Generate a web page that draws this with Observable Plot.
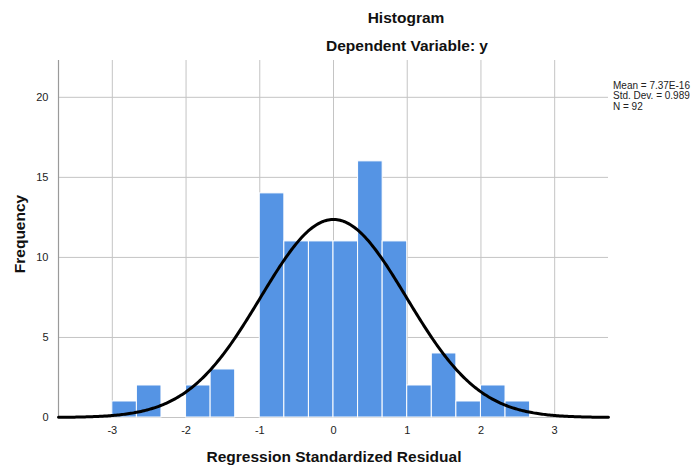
<!DOCTYPE html>
<html>
<head>
<meta charset="utf-8">
<script src="https://cdn.jsdelivr.net/npm/d3@7"></script>
<script src="https://cdn.jsdelivr.net/npm/@observablehq/plot@0.6"></script>
<style>
  html, body { margin: 0; padding: 0; background: #fff; }
  #wrap { position: relative; width: 699px; height: 469px; font-family: Arial, "Liberation Sans", sans-serif; }
  .t { position: absolute; font-weight: bold; color: #111; white-space: nowrap; }
  .leg { position: absolute; left: 613px; top: 81px; font-family: "Liberation Sans Narrow", "Arial Narrow", Arial, sans-serif; font-size: 10px; line-height: 10.3px; color: #222; }
</style>
</head>
<body>
<div id="wrap">
  <div class="t" style="left:406px; top:9px; transform:translateX(-50%); font-size:15.5px;">Histogram</div>
  <div class="t" style="left:407px; top:37px; transform:translateX(-50%); font-size:15.5px;">Dependent Variable: y</div>
  <div class="t" style="left:334px; top:448px; transform:translateX(-50%); font-size:15.5px;">Regression Standardized Residual</div>
  <div class="t" style="left:20px; top:234px; transform:translate(-50%,-50%) rotate(-90deg); font-size:15.5px;">Frequency</div>
  <div class="leg">Mean = 7.37E-16<br>Std. Dev. = 0.989<br>N = 92</div>
  <div id="chart"></div>
</div>
<script>
// Histogram bins (left edges, width 1/3) and counts
const binStarts = [-3, -8/3, -7/3, -2, -5/3, -4/3, -1, -2/3, -1/3, 0, 1/3, 2/3, 1, 4/3, 5/3, 2, 7/3];
const counts    = [ 1,  2,    0,    2,  3,    0,   14, 11,   11,  11, 16,  11,  2, 4,   1,   2, 1];
const binWidth = 1/3;
// Summary statistics shown in the legend
const meanVal = 7.37e-16;
const sdVal = 0.989;
const nVal = 92;
const xTicks = [-3, -2, -1, 0, 1, 2, 3];
const yTicks = [0, 5, 10, 15, 20];
const xDomain = [-3.73, 3.73];
const yDomain = [0, 22.3];

const bars = binStarts.map((s, i) => ({x1: s, x2: s + binWidth, y: counts[i]}));
// Normal curve scaled to counts: N * binWidth * pdf(x)
const curve = d3.range(xDomain[0], xDomain[1] + 0.001, 0.02).map(x => ({
  x,
  y: nVal * binWidth * Math.exp(-0.5 * ((x - meanVal) / sdVal) ** 2) / (sdVal * Math.sqrt(2 * Math.PI))
}));

const fmt = d => String(d);

const plot = Plot.plot({
  width: 699,
  height: 469,
  marginLeft: 58,
  marginRight: 91,
  marginTop: 60,
  marginBottom: 52,
  style: {fontFamily: "Arial, 'Liberation Sans', sans-serif", fontSize: "11px", color: "#222", background: "#fff"},
  x: {domain: xDomain, ticks: xTicks, label: null},
  y: {domain: yDomain, ticks: yTicks, label: null},
  marks: [
    Plot.gridX(xTicks, {stroke: "#c4c4c4", strokeOpacity: 1, strokeWidth: 1}),
    Plot.gridY(yTicks, {stroke: "#c4c4c4", strokeOpacity: 1, strokeWidth: 1}),
    Plot.ruleX([xDomain[0]], {stroke: "#9a9a9a", strokeWidth: 1.2}),
    Plot.rectY(bars, {x1: "x1", x2: "x2", y: "y", fill: "#5594e4", stroke: "#ffffff", strokeWidth: 1}),
    Plot.axisX(xTicks, {tickSize: 0, tickPadding: 9, fontSize: 11, fill: "#222", label: null, tickFormat: fmt}),
    Plot.axisY(yTicks, {tickSize: 0, tickPadding: 10, fontSize: 11, fill: "#222", label: null, tickFormat: fmt}),
    Plot.line(curve, {x: "x", y: "y", stroke: "#000", strokeWidth: 3})
  ]
});
document.getElementById("chart").appendChild(plot);
</script>
</body>
</html>
